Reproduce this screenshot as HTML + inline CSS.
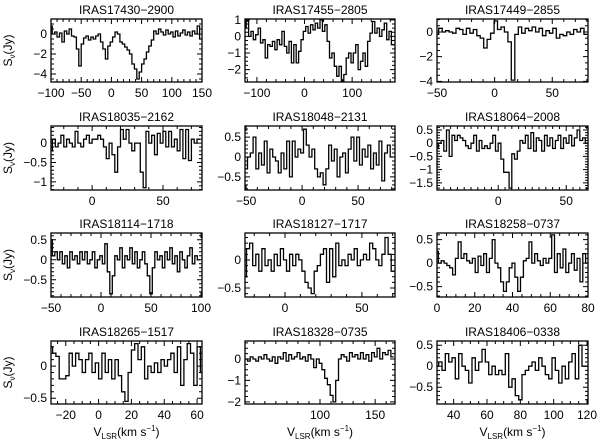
<!DOCTYPE html>
<html><head><meta charset="utf-8"><style>
html,body{margin:0;padding:0;background:#fff;}
svg{display:block;font-family:"Liberation Sans",sans-serif;}
</style></head><body>
<svg id="fig" width="600" height="443" viewBox="0 0 600 443"></svg>
<script>
// ---- data (velocity start, channel width, flux values) ----
const p1Start=-100, p1Step=4;
const p1Vals=[0.8,0,0.2,-0.3,0.1,-0.8,0.3,0,0.5,-0.2,-0.3,-1.5,-3.2,-1.0,-0.4,-0.2,-0.6,-0.3,-0.5,-0.2,0.0,-0.8,-1.5,-2.5,-1.2,-0.8,-0.3,0.2,0.0,-0.8,-1.0,-1.3,-1.6,-2.0,-3.0,-3.5,-4.5,-3.8,-3.0,-2.5,-1.8,-1.2,-0.6,0.3,0.0,0.5,0.2,-0.1,0.4,0.0,0.2,-0.3,0.3,-0.2,0.1,0.4,-0.1,0.2,-0.2,0.3,0.0,0.8,-0.5];
const p2Start=-125, p2Step=5;
const p2Vals=[0.5,1.0,0,0.3,-0.2,0.1,0.5,-0.4,-0.2,-1.3,-0.5,-0.6,-0.3,-0.8,-0.2,-0.5,0.3,-0.6,-1.0,-0.3,-1.6,-0.5,-1.6,-0.9,-0.2,0.3,0.6,0.2,0.7,0.4,0.8,0.5,1.0,0.3,0.7,-0.3,-1.3,-1.0,-1.8,-2.4,-1.8,-2.7,-2.3,-1.3,-1.0,-1.6,-1.0,-0.5,-2.0,-1.5,-1.0,-1.8,-0.3,0.2,0.9,0.2,0.5,0.0,0.4,0.8,-0.2,0.3,-0.5];
const p3Start=-50, p3Step=3;
const p3Vals=[-0.2,0.3,0,0.1,0,-0.1,0.3,0.2,-0.2,0.3,-0.1,0.2,-0.3,-0.5,-1.3,-0.6,-0.1,0.9,0.2,0.4,0,-0.8,-3.9,-0.2,0.4,-0.1,0.3,0.1,0.4,0,0.3,-0.3,0.1,-0.1,0.3,-0.5,-0.2,-0.3,0,-0.2,0.2,0,0.3,-0.2];
const p4Start=-29, p4Step=2;
const p4Vals=[-0.2,0.1,-0.1,0,0.2,-0.1,0.1,0,-0.1,0.3,0,-0.1,0.1,0.2,0,0.1,0.1,0.2,0.1,-0.1,-0.4,0,-0.3,-0.75,-0.1,0.35,0.1,0.35,0,-0.2,0,0,-0.75,-1.15,0.3,0,0.2,-0.3,0.25,0,0.3,-0.1,0.3,-0.1,0.1,-0.2,0.35,-0.4,0.35,-0.45,0.1,0,0.1];
const p5Start=-50, p5Step=2.5;
const p5Vals=[-0.3,0,0.1,0.5,-0.3,0.1,-0.2,0.4,-0.4,0.2,0,-0.1,-0.4,0.1,-0.3,0.4,-0.5,0.4,0,0.2,0.1,0.7,0.3,0,0.2,-0.3,-0.5,-0.4,-0.7,-0.3,0.3,-0.1,0.2,-0.5,0,0.1,-0.4,0.2,0.5,-0.1,0.5,-0.2,0.2,0,0.3,-0.3,0.1,-0.2,0.4,-0.6,0.1,0.3,0];
const p6Start=-45, p6Step=2;
const p6Vals=[-0.2,0,0.1,-0.3,0.5,-0.5,0.3,0.1,0.3,0.2,0.1,-0.1,-0.2,0,0.3,-0.3,0.1,-0.2,-0.1,-0.2,0,0.3,-0.3,0,-0.6,-1.1,-1.1,-1.7,-0.4,-0.6,-0.3,0.1,0,0.3,-0.2,0.4,-0.3,0.2,0.1,-0.3,0.3,-0.1,0.2,-0.2,0.1,0.3,-0.2,0.2,0,0.3,-0.1,0.2,0.5,0.1,0.2,0];
const p7Start=-50, p7Step=2.5;
const p7Vals=[0.5,0.1,0.2,0,0.2,-0.1,0.1,-0.2,0.2,0,0.1,-0.1,0.2,0,0.2,-0.1,0,0.2,-0.2,0,0.1,-0.1,0.4,-0.3,-0.85,-0.4,0.1,0,0.3,-0.2,0.1,0,0.3,-0.1,0.2,-0.2,0,0.2,-0.1,-0.4,-0.85,-0.2,0.2,0,0.1,-0.2,0.2,0,0.3,-0.1,0.1,-0.3,0.2,0,-0.2,0.1,0.3,-0.1,0.1,0];
const p8Start=-26, p8Step=2;
const p8Vals=[-0.3,0.2,0.3,-0.1,0.1,-0.2,0.2,-0.1,0,-0.2,0.1,-0.1,0.2,0,-0.2,0.1,-0.1,0.1,0,-0.2,-0.4,-0.5,-0.6,-0.2,-0.1,0.1,0.2,-0.4,0.2,-0.3,0.3,-0.1,0,-0.1,0.1,0,0.2,-0.1,0,0.1,0,0.3,0.2,0,-0.1,0.1,0.4,0.1,-0.2];
const p9Start=0, p9Step=1.5;
const p9Vals=[0.25,0,0.05,0,-0.05,-0.1,-0.25,0.1,0.45,0.1,0.2,0.05,0,0.1,-0.2,0.15,-0.05,0.2,-0.2,0.1,0.5,0,-0.1,-0.4,-0.6,-0.4,-0.1,0,-0.3,-0.6,-0.3,0.05,0.1,0.45,0,0.2,0.05,-0.05,0.1,0,0.1,0.6,-0.2,0.2,-0.1,0.3,-0.2,0,0.2,-0.15,0.1,-0.4,0.2,0];
const p10Start=-29, p10Step=2;
const p10Vals=[0.3,0.2,0.15,-0.2,-0.2,-0.15,0.2,0,0.2,0.1,-0.1,0.1,0.2,-0.1,0.05,-0.2,0.2,-0.1,0.1,-0.2,0.1,-0.15,-0.4,-0.55,-0.1,0.25,0.35,0.1,0.3,-0.2,0,-0.1,0.05,-0.1,0.1,0,0.1,0.2,-0.1,0.3,-0.3,0.1,0.35,0.2,-0.3,0.3,-0.1];
const p11Start=33, p11Step=2.5;
const p11Vals=[0,-0.1,0.1,0,-0.1,0.1,0,0.2,0,-0.1,0.1,-0.2,0.1,0,0.3,-0.1,0.2,0,0.1,0.3,0,0.1,-0.1,0.2,0,-0.4,0,-0.2,-0.5,-0.9,-1.2,-1.7,-2.0,-1.0,0,0.2,0.1,-0.1,0.3,0.1,0.2,0,0.3,0,0.2,-0.1,0.3,0.1,0.5,0,0.3,0.2,0.4,0.1];
const p12Start=30, p12Step=2;
const p12Vals=[0,0.1,-0.1,0.3,0.1,0.2,-0.3,0.3,0,-0.1,-0.4,0.2,-0.1,0.1,0.4,0.1,-0.2,0,-0.2,-0.1,-0.2,0.3,-0.5,-0.3,-0.7,-0.8,-0.2,-0.1,0,0.1,-0.1,0.2,0,-0.2,-0.3,0.2,-0.1,-0.4,0,-0.3,0.1,0.3,-0.3,0.5,0,0];

const titles=["IRAS17430−2900","IRAS17455−2805","IRAS17449−2855","IRAS18035−2162","IRAS18048−2131","IRAS18064−2008","IRAS18114−1718","IRAS18127−1717","IRAS18258−0737","IRAS18265−1517","IRAS18328−0735","IRAS18406−0338"];
const xTicks=[[-100,-50,0,50,100,150],[-100,0,100],[-50,0,50],[0,50],[-50,0,50],[0,50],[-50,0,50,100],[0,50],[0,20,40,60,80],[-20,0,20,40,60],[100,150],[40,60,80,100,120]];
const yTicks=[[0,-2,-4],[1,0,-1,-2],[0,-2,-4],[0,-0.5,-1],[0.5,0,-0.5],[0.5,0,-0.5,-1,-1.5],[0.5,0,-0.5],[0,-0.5],[0.5,0,-0.5],[0,-0.5],[0,-1,-2],[0.5,0,-0.5]];
const starts=[p1Start,p2Start,p3Start,p4Start,p5Start,p6Start,p7Start,p8Start,p9Start,p10Start,p11Start,p12Start];
const steps=[p1Step,p2Step,p3Step,p4Step,p5Step,p6Step,p7Step,p8Step,p9Step,p10Step,p11Step,p12Step];
const vals=[p1Vals,p2Vals,p3Vals,p4Vals,p5Vals,p6Vals,p7Vals,p8Vals,p9Vals,p10Vals,p11Vals,p12Vals];

// ---- layout ----
const xr=[[-100,150],[-125,190],[-50,81],[-29,77.5],[-51,83],[-45,66],[-50,101],[-26,71.5],[0,80],[-29,63],[32,168],[30,120.6]];
const yr=[[-4.8,1.5],[-2.75,1.05],[-4.05,1.05],[-1.21,0.44],[-0.83,0.78],[-1.77,0.65],[-0.93,0.67],[-0.66,0.48],[-0.72,0.64],[-0.59,0.39],[-2.1,0.84],[-0.9,0.6]];
const xMinor=[10,20,10,10,10,5,10,10,5,5,10,5];
const yMinor=[0.5,0.25,0.5,0.1,0.1,0.1,0.1,0.1,0.1,0.1,0.25,0.1];
const colX=[[51,202],[245,395],[437,588]];
const rowY=[[19,82],[126,190],[233,297],[341,404]];

const NS="http://www.w3.org/2000/svg";
const svg=document.getElementById('fig');
function mk(tag,at,parent){const e=document.createElementNS(NS,tag);for(const k in at)e.setAttribute(k,at[k]);(parent||svg).appendChild(e);return e;}
function fmt(v){return (v<0?"−":"")+Math.abs(v);}

for(let i=0;i<12;i++){
  const c=i%3,r=Math.floor(i/3);
  const [x0,x1]=colX[c],[y0,y1]=rowY[r];
  const sx=v=>x0+(v-xr[i][0])/(xr[i][1]-xr[i][0])*(x1-x0);
  const sy=v=>y1-(v-yr[i][0])/(yr[i][1]-yr[i][0])*(y1-y0);
  const g=mk('g',{});
  
  
  const t=mk('text',{x:(x0+x1)/2,y:y0-5,'text-anchor':'middle','font-size':'12'},g);
  t.textContent=titles[i];
  
  
  // clip
  const cp=mk('clipPath',{id:'cp'+i},g);
  mk('rect',{x:x0,y:y0,width:x1-x0,height:y1-y0},cp);
  // spectrum
  let d='';
  const st=starts[i],w=steps[i],v=vals[i];
  for(let k=0;k<v.length;k++){
    const a=sx(st+k*w-w/2),b=sx(st+k*w+w/2),yy=sy(v[k]);
    d+=(k===0?'M':'L')+a.toFixed(1)+','+yy.toFixed(1)+'L'+b.toFixed(1)+','+yy.toFixed(1);
  }
  const p=mk('path',{d:d,fill:'none',stroke:'#000','stroke-width':'1.3','clip-path':'url(#cp'+i+')'},g);
  
  
  // ticks
  let td='';
  const xs=xMinor[i];
  for(let q=Math.ceil(xr[i][0]/xs)*xs;q<=xr[i][1];q+=xs){const X=sx(q);const maj=xTicks[i].includes(Math.round(q*100)/100);const L=maj?5:3;td+=`M${X},${y1}v${-L}M${X},${y0}v${L}`;}
  const ys=yMinor[i];
  for(let q=Math.ceil(yr[i][0]/ys)*ys;q<=yr[i][1]+1e-9;q+=ys){const Y=sy(q);const qq=Math.round(q*100)/100;const maj=yTicks[i].some(t=>Math.abs(t-qq)<1e-6);const L=maj?5:3;td+=`M${x0},${Y}h${L}M${x1},${Y}h${-L}`;}
  mk('path',{d:td,stroke:'#000','stroke-width':'1',fill:'none'},g);
  const fr=mk('rect',{x:x0,y:y0,width:x1-x0,height:y1-y0,fill:'none',stroke:'#000','stroke-width':'1.3'},g);
  
  
  for(const q of xTicks[i]){const e=mk('text',{x:sx(q),y:y1+15,'text-anchor':'middle','font-size':'12'},g);e.textContent=fmt(q);
    
    }
  for(const q of yTicks[i]){const e=mk('text',{x:x0-4,y:sy(q)+4,'text-anchor':'end','font-size':'12'},g);e.textContent=fmt(q);
    
    }
  if(c===0){
    const yt=mk('text',{transform:`translate(12,${(y0+y1)/2}) rotate(-90)`,'text-anchor':'middle','font-size':'12'},g);
    yt.innerHTML='S<tspan font-size="8" dy="3">ν</tspan><tspan dy="-3">(Jy)</tspan>';
    
    
  }
  if(r===3){
    const xt=mk('text',{x:(x0+x1)/2,y:436,'text-anchor':'middle','font-size':'12'},g);
    xt.innerHTML='V<tspan font-size="8" dy="3">LSR</tspan><tspan dy="-3">(km s</tspan><tspan font-size="8" dy="-5">−1</tspan><tspan dy="5">)</tspan>';
    
    
  }
}
</script>
</body></html>
